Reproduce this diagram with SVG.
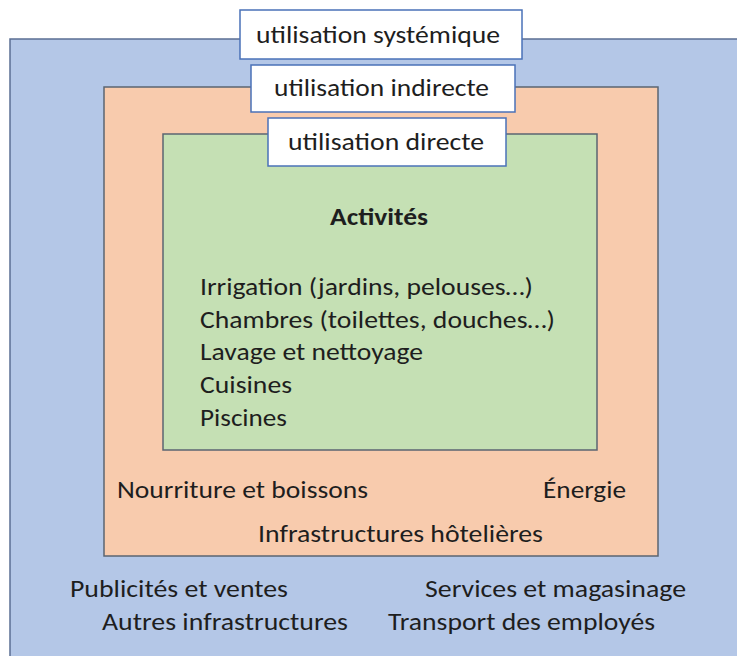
<svg xmlns="http://www.w3.org/2000/svg" width="737" height="656" viewBox="0 0 737 656">
<style>
.t{font-family:Carlito,Lato,"Open Sans","Liberation Sans",sans-serif;font-size:24px;fill:#1e1e1e}
.c{text-anchor:middle}
.b{font-weight:bold}
.lbl{fill:#ffffff;stroke:#4a72b8;stroke-width:1.5}
</style>
<rect width="737" height="656" fill="#ffffff"/>
<g id="systemique">
<rect x="10" y="39" width="740" height="640" fill="#b4c7e7" stroke="#5b6f94" stroke-width="1.5"/>
<text class="t" x="70" y="597" textLength="218" lengthAdjust="spacingAndGlyphs">Publicités et ventes</text>
<text class="t" x="425" y="597" textLength="261" lengthAdjust="spacingAndGlyphs">Services et magasinage</text>
<text class="t" x="102" y="630" textLength="246" lengthAdjust="spacingAndGlyphs">Autres infrastructures</text>
<text class="t" x="388" y="630" textLength="267" lengthAdjust="spacingAndGlyphs">Transport des employés</text>
</g>
<g id="indirecte">
<rect x="104" y="87" width="554" height="469" fill="#f8cbad" stroke="#5b6572" stroke-width="1.5"/>
<text class="t" x="117" y="498" textLength="251" lengthAdjust="spacingAndGlyphs">Nourriture et boissons</text>
<text class="t" x="543" y="498" textLength="83" lengthAdjust="spacingAndGlyphs">Énergie</text>
<text class="t" x="258" y="542" textLength="285" lengthAdjust="spacingAndGlyphs">Infrastructures hôtelières</text>
</g>
<g id="directe">
<rect x="163" y="134" width="434" height="316" fill="#c5e0b4" stroke="#5b6572" stroke-width="1.5"/>
<text class="t b" x="330" y="225" textLength="98" lengthAdjust="spacingAndGlyphs">Activités</text>
<text class="t" x="200" y="295" textLength="333" lengthAdjust="spacingAndGlyphs">Irrigation (jardins, pelouses…)</text>
<text class="t" x="200" y="328" textLength="355" lengthAdjust="spacingAndGlyphs">Chambres (toilettes, douches…)</text>
<text class="t" x="200" y="360" textLength="223" lengthAdjust="spacingAndGlyphs">Lavage et nettoyage</text>
<text class="t" x="200" y="393" textLength="92" lengthAdjust="spacingAndGlyphs">Cuisines</text>
<text class="t" x="200" y="426" textLength="87" lengthAdjust="spacingAndGlyphs">Piscines</text>
</g>
<g id="label-systemique">
<rect class="lbl" x="240" y="10" width="282" height="49"/>
<text class="t" x="256" y="43" textLength="244" lengthAdjust="spacingAndGlyphs">utilisation systémique</text>
</g>
<g id="label-indirecte">
<rect class="lbl" x="251" y="65" width="264" height="47"/>
<text class="t" x="274" y="96" textLength="215" lengthAdjust="spacingAndGlyphs">utilisation indirecte</text>
</g>
<g id="label-directe">
<rect class="lbl" x="268" y="118" width="238" height="48"/>
<text class="t" x="288" y="150" textLength="196" lengthAdjust="spacingAndGlyphs">utilisation directe</text>
</g>
<g id="connectors"/>
</svg>
